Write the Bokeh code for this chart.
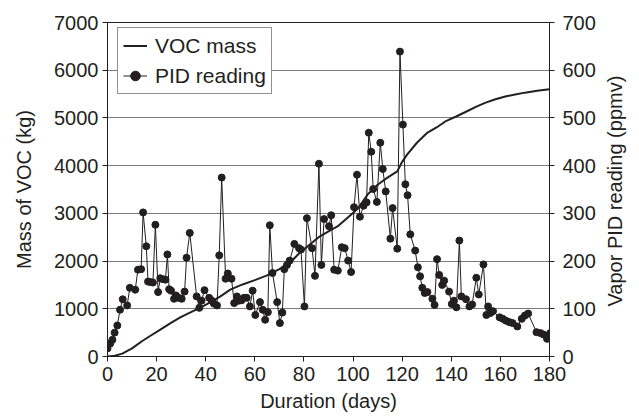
import math
from bokeh.plotting import figure
from bokeh.models import Range1d, LinearAxis, FixedTicker, Legend, LegendItem
from bokeh.embed import file_html
from bokeh.resources import INLINE

# ---- data ----
days_mass = [0, 3, 6, 10, 14, 18, 22, 26, 30, 34, 38, 42, 46, 50, 55, 60, 65, 70, 74, 78,
             82, 86, 90, 94, 98, 102, 106, 110, 114, 118, 120, 122, 126, 130, 134, 138,
             142, 146, 150, 154, 158, 162, 166, 170, 175, 180]
voc_mass = [0, 15, 60, 170, 320, 450, 580, 710, 830, 930, 1030, 1140, 1260, 1400, 1510,
            1600, 1700, 1830, 1950, 2160, 2330, 2500, 2620, 2740, 2920, 3100, 3400, 3600,
            3750, 3880, 4080, 4230, 4480, 4680, 4800, 4940, 5030, 5130, 5230, 5320, 5390,
            5450, 5490, 5530, 5570, 5600]

days_pid = [0.0, 1.1, 2.0, 2.9, 4.0, 5.1, 6.2, 8.0, 9.1, 11.3, 12.4, 13.7, 14.5, 15.8,
            16.5, 17.5, 18.5, 19.5, 20.6, 21.5, 22.6, 23.6, 24.4, 25.1, 25.9, 27.1, 27.9,
            29.0, 30.2, 31.4, 32.2, 33.5, 36.3, 37.4, 38.3, 39.5, 41.4, 42.5, 43.3, 44.6,
            45.5, 46.5, 48.1, 49.0, 50.5, 51.6, 52.7, 53.5, 54.6, 55.6, 56.7, 58.0, 59.1,
            60.2, 62.1, 63.2, 64.2, 65.3, 66.1, 67.2, 69.1, 70.2, 71.2, 72.0, 73.1, 74.2,
            76.1, 78.0, 78.8, 80.2, 81.2, 83.3, 84.5, 86.1, 87.1, 88.2, 90.2, 91.1, 92.3,
            93.8, 95.4, 96.6, 98.0, 99.2, 100.4, 101.6, 102.8, 104.3, 105.5, 106.4, 107.4,
            108.2, 109.7, 111.1, 112.1, 113.3, 115.2, 116.1, 118.0, 119.1, 120.3, 121.3,
            122.2, 123.3, 125.3, 126.4, 127.3, 128.2, 129.2, 130.3, 132.3, 133.2, 134.2,
            135.1, 136.3, 137.1, 139.1, 140.2, 141.1, 142.1, 143.3, 144.1, 146.0, 147.4,
            148.5, 150.2, 151.2, 153.1, 154.3, 155.0, 155.9, 157.0, 159.7, 161.0, 162.3,
            163.7, 165.0, 166.9, 168.7, 170.0, 171.3, 174.7, 176.3, 177.6, 179.0, 180.3]
pid_ppmv = [17, 27, 35, 50, 65, 98, 120, 107, 144, 140, 182, 183, 302, 231,
            157, 156, 155, 276, 135, 164, 162, 161, 214, 141, 138, 121, 128,
            123, 121, 136, 207, 259, 126, 102, 117, 139, 123, 117, 111, 107,
            212, 375, 163, 174, 163, 112, 126, 117, 118, 123, 123, 105, 138,
            87, 114, 98, 77, 93, 275, 175, 114, 70, 92, 183, 192, 201,
            236, 227, 224, 105, 290, 227, 169, 404, 192, 288, 273, 296, 182,
            180, 229, 227, 201, 177, 313, 381, 293, 316, 323, 469, 429,
            351, 324, 448, 393, 346, 247, 311, 226, 639, 486, 361,
            338, 256, 222, 187, 168, 144, 133, 135, 121, 108, 204,
            171, 150, 159, 136, 110, 117, 103, 243, 126, 120, 105,
            109, 165, 130, 193, 87, 105, 91, 95, 82, 79, 75,
            72, 70, 63, 79, 86, 90, 51, 49, 46, 37, 49]

x_ticks = [0, 20, 40, 60, 80, 100, 120, 140, 160, 180]
mass_ticks = [0, 1000, 2000, 3000, 4000, 5000, 6000, 7000]
pid_ticks = [0, 100, 200, 300, 400, 500, 600, 700]

INK = "#231f20"
FONT = "Liberation Sans"
FS = "20px"

p = figure(width=639, height=419, output_backend="svg", toolbar_location=None,
           x_range=Range1d(0, 180), y_range=Range1d(0, 7000),
           min_border_left=107, min_border_right=85, min_border_top=22,
           min_border_bottom=63, background_fill_color="white",
           border_fill_color="white")
p.extra_y_ranges = {"pid": Range1d(0, 700)}

p.outline_line_color = INK
p.outline_line_width = 1
p.xgrid.visible = False
p.ygrid.ticker = FixedTicker(ticks=mass_ticks)
p.ygrid.grid_line_color = "#7a7a7a"
p.ygrid.grid_line_width = 1

# right-axis title reads bottom-to-top; it is anchored at the axis start,
# so a few non-breaking spaces centre it along the axis
right_axis = LinearAxis(y_range_name="pid", ticker=FixedTicker(ticks=pid_ticks),
                        axis_label="\u00a0" * 9 + "Vapor PID reading (ppmv)")
right_axis.axis_label_orientation = math.pi / 2
right_axis.axis_label_align = "start"
p.add_layout(right_axis, "right")

p.xaxis.ticker = FixedTicker(ticks=x_ticks)
p.yaxis[0].ticker = FixedTicker(ticks=mass_ticks)
p.xaxis.axis_label = "Duration (days)"
p.yaxis[0].axis_label = "Mass of VOC (kg)"

for ax in [p.xaxis[0], p.yaxis[0], right_axis]:
    ax.axis_line_color = INK
    ax.axis_line_width = 1
    ax.major_tick_line_color = INK
    ax.major_tick_in = 0
    ax.major_tick_out = 5
    ax.minor_tick_line_color = None
    ax.major_label_text_font = FONT
    ax.major_label_text_font_size = FS
    ax.major_label_text_color = INK
    ax.axis_label_text_font = FONT
    ax.axis_label_text_font_size = FS
    ax.axis_label_text_font_style = "normal"
    ax.axis_label_text_color = INK

p.yaxis[0].major_label_standoff = 4
p.yaxis[0].axis_label_standoff = 16
right_axis.major_label_standoff = 8
right_axis.axis_label_standoff = 16
p.xaxis[0].major_label_standoff = 5
p.xaxis[0].axis_label_standoff = 6

mass_r = p.line(days_mass, voc_mass, line_width=2, line_color=INK)
pid_line = p.line(days_pid, pid_ppmv, y_range_name="pid", line_width=1, line_color=INK)
pid_pts = p.scatter(days_pid, pid_ppmv, y_range_name="pid", size=7,
                    fill_color=INK, line_color=INK)

legend = Legend(items=[LegendItem(label="VOC mass", renderers=[mass_r]),
                       LegendItem(label="PID reading", renderers=[pid_line, pid_pts])],
                location=(10, 262), margin=0, padding=5, spacing=5,
                glyph_width=24, glyph_height=25, label_height=25, label_standoff=8,
                label_text_font=FONT, label_text_font_size="21px", label_text_color=INK,
                border_line_color=INK, border_line_width=1,
                background_fill_color="white", background_fill_alpha=1.0)
p.add_layout(legend)

open("out.html", "w").write(file_html(p, INLINE))
